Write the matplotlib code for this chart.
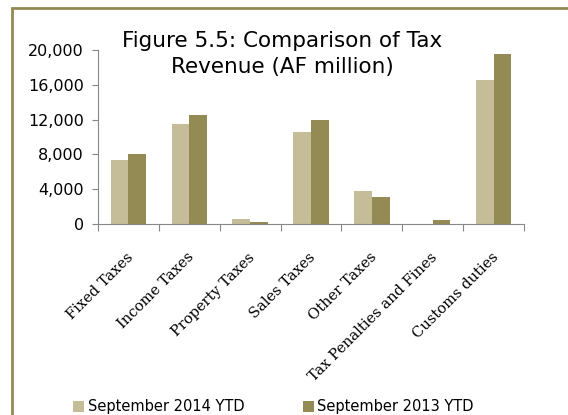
import numpy as np
import matplotlib
matplotlib.use("Agg")
import matplotlib.pyplot as plt
from matplotlib.patches import Rectangle
from matplotlib.ticker import FuncFormatter

categories = ["Fixed Taxes", "Income Taxes", "Property Taxes", "Sales Taxes",
              "Other Taxes", "Tax Penalties and Fines", "Customs duties"]
sep_2014 = [7350, 11500, 550, 10550, 3800, 20, 16550]
sep_2013 = [8050, 12500, 250, 11950, 3100, 460, 19550]
series_names = ["September 2014 YTD", "September 2013 YTD"]

light = "#C4BD97"
dark = "#948A54"

fig = plt.figure(figsize=(5.68, 4.15), dpi=100)
ax = fig.add_axes([98 / 568, 1 - 224 / 415, 426 / 568, 174 / 415])

x = np.arange(len(categories))
w = 0.29
ax.bar(x - w / 2, sep_2014, w, color=light, label=series_names[0])
ax.bar(x + w / 2, sep_2013, w, color=dark, label=series_names[1])

ax.set_xlim(-0.5, len(categories) - 0.5)
ax.set_ylim(0, 20000)
ax.set_yticks(range(0, 20001, 4000))
ax.yaxis.set_major_formatter(FuncFormatter(lambda v, p: f"{int(v):,}"))
ax.tick_params(axis="y", labelsize=11.5, length=4, color="#888888", pad=6)

# category ticks sit on the boundaries between groups
ax.set_xticks(np.arange(len(categories) + 1) - 0.5)
ax.set_xticklabels([])
ax.tick_params(axis="x", length=5, color="#888888", direction="out")
for i, name in enumerate(categories):
    ax.text(i - 0.04, -0.15, name, transform=ax.get_xaxis_transform(),
            rotation=45, ha="right", va="top", rotation_mode="anchor",
            family="DejaVu Serif", fontsize=10.5)

for s in ["top", "right"]:
    ax.spines[s].set_visible(False)
for s in ["left", "bottom"]:
    ax.spines[s].set_color("#888888")

fig.text(282 / 568, 1 - 54 / 415, "Figure 5.5: Comparison of Tax\nRevenue (AF million)",
         ha="center", va="center", fontsize=15.5, linespacing=1.35)

fig.legend(loc="lower left", bbox_to_anchor=(60 / 568, -0.03), ncol=2,
           frameon=False, fontsize=10.5, handlelength=0.75, handleheight=0.75,
           handletextpad=0.25, columnspacing=4.0)

fig.patches.append(Rectangle((12 / 568, -0.1), 1.2, 1 - 8 / 415 + 0.1,
                             transform=fig.transFigure, fill=False,
                             edgecolor=dark, linewidth=2))

fig.savefig("out.png", dpi=100)
